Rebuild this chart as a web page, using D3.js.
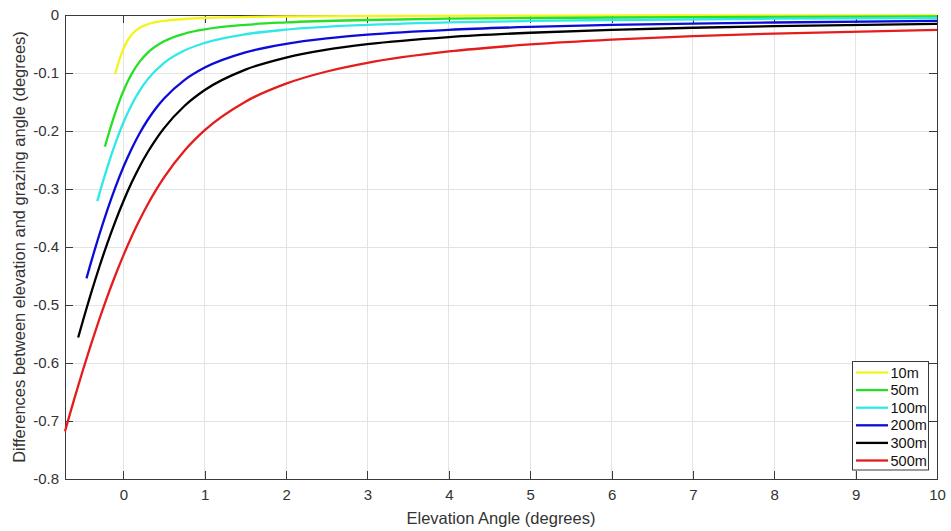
<!DOCTYPE html>
<html>
<head>
<meta charset="utf-8">
<script src="https://cdn.jsdelivr.net/npm/d3@7"></script>
<style>
  html, body { margin: 0; padding: 0; background: #fff; }
  svg { display: block; font-family: "Liberation Sans", Arial, sans-serif; }
</style>
</head>
<body>
<svg id="chart" width="951" height="531"></svg>
<script>
// ---- data ----
const seriesNames = ["10m", "50m", "100m", "200m", "300m", "500m"];
const seriesColors = ["#f4f41c", "#26e026", "#30e8e8", "#0c0cd8", "#000000", "#e41c1c"];

const elev10 = [-0.1015, -0.09, -0.075, -0.05, -0.025, 0, 0.05, 0.1, 0.2, 0.3, 0.5, 1, 2, 3, 5, 7, 10];
const diff10 = [-0.1015, -0.0958, -0.0887, -0.0776, -0.0675, -0.0586, -0.0443, -0.0341, -0.0221, -0.0159, -0.0100, -0.0051, -0.0026, -0.0017, -0.0010, -0.0007, -0.0005];

const elev50 = [-0.227, -0.2, -0.175, -0.15, -0.1, -0.05, 0, 0.05, 0.1, 0.2, 0.3, 0.5, 0.75, 1, 1.5, 2, 3, 4, 5, 6, 8, 10];
const diff50 = [-0.227, -0.2137, -0.2018, -0.1903, -0.1686, -0.1488, -0.1311, -0.1155, -0.1019, -0.0804, -0.0649, -0.0454, -0.0323, -0.0248, -0.0169, -0.0128, -0.0086, -0.0064, -0.0052, -0.0043, -0.0032, -0.0026];

const elev100 = [-0.321, -0.3, -0.25, -0.2, -0.15, -0.1, 0, 0.1, 0.2, 0.3, 0.5, 0.75, 1, 1.5, 2, 3, 4, 5, 6, 8, 10];
const diff100 = [-0.321, -0.3106, -0.2865, -0.2636, -0.2420, -0.2216, -0.1853, -0.1550, -0.1303, -0.1106, -0.0826, -0.0612, -0.0481, -0.0332, -0.0253, -0.0170, -0.0128, -0.0103, -0.0086, -0.0064, -0.0052];

const elev200 = [-0.454, -0.4, -0.35, -0.3, -0.2, -0.1, 0, 0.1, 0.2, 0.3, 0.4, 0.5, 0.75, 1, 1.5, 2, 2.5, 3, 4, 5, 6, 7, 8, 10];
const diff200 = [-0.454, -0.4274, -0.4036, -0.3806, -0.3371, -0.2976, -0.2621, -0.2309, -0.2038, -0.1806, -0.1608, -0.1440, -0.1122, -0.0907, -0.0645, -0.0497, -0.0403, -0.0338, -0.0255, -0.0205, -0.0171, -0.0147, -0.0129, -0.0103];

const elev300 = [-0.556, -0.5, -0.45, -0.4, -0.3, -0.2, -0.1, 0, 0.1, 0.2, 0.3, 0.4, 0.5, 0.75, 1, 1.5, 2, 2.5, 3, 4, 5, 6, 7, 8, 10];
const diff300 = [-0.556, -0.5284, -0.5043, -0.4809, -0.4362, -0.3945, -0.3561, -0.3210, -0.2894, -0.2612, -0.2362, -0.2143, -0.1950, -0.1569, -0.1294, -0.0942, -0.0733, -0.0597, -0.0503, -0.0381, -0.0306, -0.0256, -0.0220, -0.0193, -0.0154];

const elev500 = [-0.7178, -0.65, -0.6, -0.5, -0.4, -0.3, -0.2, -0.1, 0, 0.1, 0.2, 0.3, 0.4, 0.5, 0.75, 1, 1.5, 2, 2.5, 3, 4, 5, 6, 7, 8, 10];
const diff500 = [-0.7178, -0.6843, -0.6602, -0.6134, -0.5687, -0.5263, -0.4864, -0.4491, -0.4144, -0.3824, -0.3531, -0.3263, -0.3020, -0.2800, -0.2340, -0.1985, -0.1494, -0.1183, -0.0974, -0.0825, -0.0629, -0.0508, -0.0425, -0.0365, -0.0320, -0.0257];

const xTicks = [0, 1, 2, 3, 4, 5, 6, 7, 8, 9, 10];
const yTicks = [0, -0.1, -0.2, -0.3, -0.4, -0.5, -0.6, -0.7, -0.8];
const xDomain = [-0.7178, 10];
const yDomain = [-0.8, 0];
const xTitle = "Elevation Angle (degrees)";
const yTitle = "Differences between elevation and grazing angle (degrees)";

// ---- build ----
const elevs = [elev10, elev50, elev100, elev200, elev300, elev500];
const diffs = [diff10, diff50, diff100, diff200, diff300, diff500];
const series = seriesNames.map((n, i) => ({
  name: n, color: seriesColors[i],
  pts: elevs[i].map((e, j) => [e, diffs[i][j]])
}));

const svg = d3.select("#chart");
const L = 65, R = 937, T = 15, B = 479;
const x = d3.scaleLinear().domain(xDomain).range([L, R]);
const y = d3.scaleLinear().domain(yDomain).range([B, T]);

const axisCol = "#3a3a3a", gridCol = "#e3e3e3", textCol = "#333";

// grid
const g = svg.append("g");
g.selectAll("line.gx").data(xTicks).join("line")
  .attr("x1", d => x(d)).attr("x2", d => x(d)).attr("y1", T).attr("y2", B)
  .attr("stroke", gridCol).attr("stroke-width", 1).attr("shape-rendering", "crispEdges");
g.selectAll("line.gy").data(yTicks).join("line")
  .attr("x1", L).attr("x2", R).attr("y1", d => y(d)).attr("y2", d => y(d))
  .attr("stroke", gridCol).attr("stroke-width", 1).attr("shape-rendering", "crispEdges");

// axes
function styleAxis(sel) {
  sel.selectAll("path").attr("stroke", axisCol).attr("shape-rendering", "crispEdges");
  sel.selectAll("line").attr("stroke", axisCol).attr("shape-rendering", "crispEdges");
  sel.selectAll("text").attr("fill", textCol).style("font-size", "15px")
    .style("font-family", "'Liberation Sans', Arial, sans-serif");
}
const tk = 8;
svg.append("g").attr("transform", `translate(0,${B})`)
  .call(d3.axisBottom(x).tickValues(xTicks).tickFormat(d3.format("d")).tickSizeInner(-tk).tickSizeOuter(0).tickPadding(10))
  .call(styleAxis);
svg.append("g").attr("transform", `translate(0,${T})`)
  .call(d3.axisTop(x).tickValues(xTicks).tickFormat("").tickSizeInner(-tk).tickSizeOuter(0))
  .call(styleAxis);
svg.append("g").attr("transform", `translate(${L},0)`)
  .call(d3.axisLeft(y).tickValues(yTicks).tickFormat(d => d === 0 ? "0" : d3.format(".1f")(d).replace("−", "-")).tickSizeInner(-tk).tickSizeOuter(0).tickPadding(6))
  .call(styleAxis);
svg.append("g").attr("transform", `translate(${R},0)`)
  .call(d3.axisRight(y).tickValues(yTicks).tickFormat("").tickSizeInner(-tk).tickSizeOuter(0))
  .call(styleAxis);

// lines
const line = d3.line().x(d => x(d[0])).y(d => y(d[1])).curve(d3.curveMonotoneX);
svg.append("g").selectAll("path").data(series).join("path")
  .attr("d", d => line(d.pts))
  .attr("fill", "none").attr("stroke", d => d.color).attr("stroke-width", 2.3)
  .attr("stroke-linejoin", "round");

// titles
svg.append("text").attr("x", (L + R) / 2).attr("y", 524).attr("text-anchor", "middle")
  .attr("fill", textCol).style("font-size", "16.5px").text(xTitle);
svg.append("text").attr("transform", `translate(25,${(T + B) / 2}) rotate(-90)`)
  .attr("text-anchor", "middle").attr("fill", textCol).style("font-size", "16.5px").text(yTitle);

// legend
const lg = svg.append("g");
lg.append("rect").attr("x", 852.5).attr("y", 361.5).attr("width", 76).attr("height", 108.5)
  .attr("fill", "#fff").attr("stroke", axisCol).attr("stroke-width", 1);
const rows = lg.selectAll("g.row").data(series).join("g")
  .attr("transform", (d, i) => `translate(0,${372.5 + i * 17.6})`);
rows.append("line").attr("x1", 856).attr("x2", 888).attr("y1", 0).attr("y2", 0)
  .attr("stroke", d => d.color).attr("stroke-width", 2.3);
rows.append("text").attr("x", 890.5).attr("y", 0).attr("dy", "0.35em")
  .attr("fill", "#111").style("font-size", "14.5px").text(d => d.name);
</script>
</body>
</html>
